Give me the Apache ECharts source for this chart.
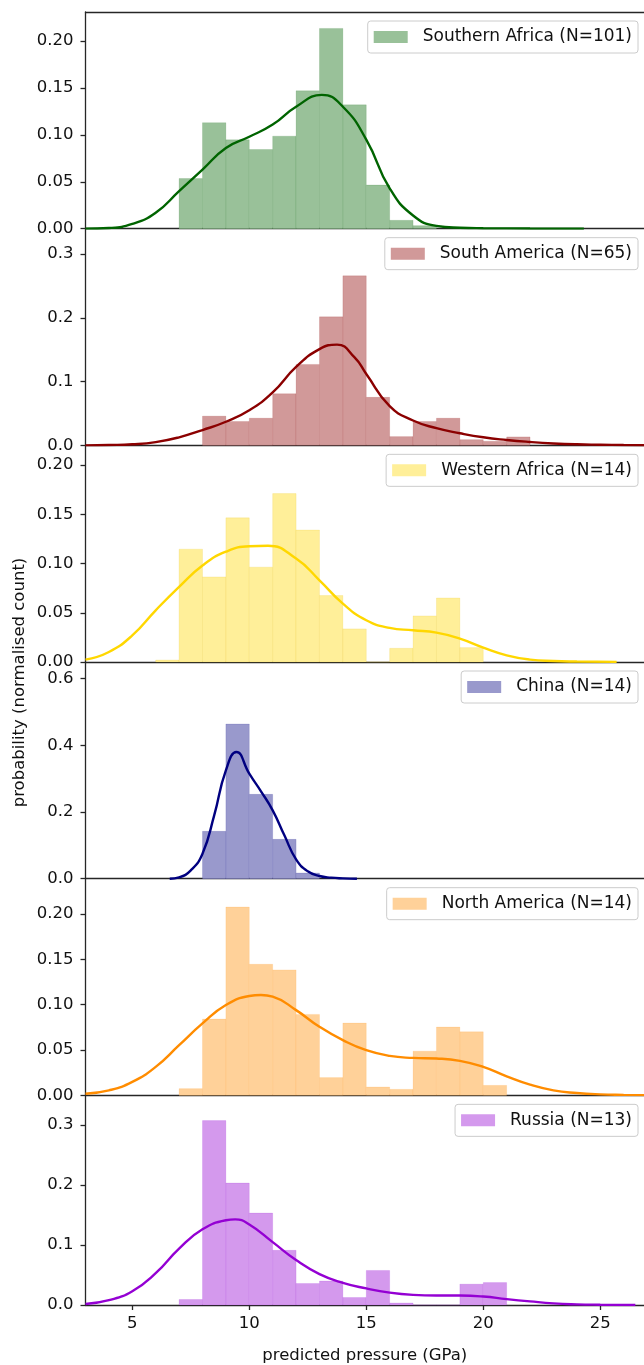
<!DOCTYPE html>
<html><head><meta charset="utf-8">
<script src="https://cdn.jsdelivr.net/npm/echarts@6/dist/echarts.min.js"></script>
<style>html,body{margin:0;padding:0;background:#fff}#c{width:644px;height:1365px}</style>
</head><body><div id="c"></div>
<script>
// ---------- data ----------
const regionLabels = ['Southern Africa (N=101)', 'South America (N=65)', 'Western Africa (N=14)', 'China (N=14)', 'North America (N=14)', 'Russia (N=13)'];
const xTicks = [5, 10, 15, 20, 25];

// histogram: first bin left edge, bin width 1 GPa
const histStart = [7, 8, 6, 8, 7, 7];
const histSA = [0.0535, 0.113, 0.0947, 0.0844, 0.0986, 0.147, 0.2135, 0.132, 0.0465, 0.0089, 0.0032];
const histSAm = [0.0458, 0.0374, 0.0426, 0.081, 0.127, 0.2016, 0.266, 0.0753, 0.0137, 0.0374, 0.0426, 0.0089, 0.0063, 0.0132];
const histWA = [0.002, 0.1146, 0.0864, 0.1464, 0.0963, 0.171, 0.134, 0.0675, 0.0336, 0, 0.0139, 0.0468, 0.065, 0.0146];
const histCN = [0.142, 0.464, 0.253, 0.118, 0.017];
const histNA = [0.0074, 0.0841, 0.2077, 0.1446, 0.1384, 0.0893, 0.0196, 0.0797, 0.0092, 0.0066, 0.0487, 0.0753, 0.0701, 0.011];
const histRU = [0.0092, 0.307, 0.203, 0.153, 0.091, 0.0358, 0.040, 0.0125, 0.0575, 0.0033, 0, 0, 0.0347, 0.0374];

// KDE curves (x in GPa, density)
const kdeXSA = [3, 4, 5, 6, 7, 8, 9, 10, 11, 12, 13.1, 14, 15, 16, 17, 18, 19, 20, 22, 24.3];
const kdeYSA = [0, 0.0007, 0.005, 0.017, 0.040, 0.063, 0.086, 0.098, 0.111, 0.130, 0.1426, 0.130, 0.095, 0.043, 0.014, 0.003, 0.001, 0.0005, 0.0002, 0.0001];
const kdeXSAm = [3, 4, 5, 6, 7, 8, 9, 10, 11, 12, 13, 13.75, 14.5, 15, 16, 17, 18, 19, 20, 21, 22, 23, 24, 25, 26, 26.9];
const kdeYSAm = [0, 0.0005, 0.0016, 0.005, 0.0126, 0.024, 0.037, 0.055, 0.083, 0.123, 0.151, 0.158, 0.138, 0.112, 0.0616, 0.039, 0.027, 0.019, 0.0126, 0.0084, 0.0053, 0.003, 0.0016, 0.001, 0.0005, 0.0002];
const kdeXWA = [3, 4, 5, 6, 7, 8, 9, 10, 10.8, 12, 13, 14, 15, 16, 17, 18, 19, 20, 21, 22, 23, 24, 25.7];
const kdeYWA = [0.0024, 0.0102, 0.027, 0.0525, 0.0763, 0.098, 0.112, 0.1176, 0.118, 0.105, 0.083, 0.0593, 0.0424, 0.0346, 0.0322, 0.0298, 0.0237, 0.0146, 0.0068, 0.0024, 0.001, 0.0005, 0.0001];
const kdeXCN = [6.6, 7, 7.5, 8, 8.5, 9, 9.45, 10, 10.5, 11, 11.5, 12, 12.5, 13, 13.5, 14, 14.6];
const kdeYCN = [0, 0.004, 0.025, 0.075, 0.19, 0.325, 0.38, 0.315, 0.262, 0.205, 0.13, 0.058, 0.022, 0.008, 0.003, 0.001, 0];
const kdeXNA = [3, 4, 5, 6, 7, 8, 9, 10, 10.5, 11, 12, 13, 14, 15, 16, 17, 18, 19, 20, 21, 22, 23, 24, 25, 26, 26.9];
const kdeYNA = [0.0018, 0.0055, 0.0148, 0.0314, 0.0553, 0.0793, 0.0996, 0.1096, 0.1107, 0.1089, 0.094, 0.0756, 0.0609, 0.0498, 0.0435, 0.0413, 0.0406, 0.038, 0.0314, 0.021, 0.0118, 0.0055, 0.0026, 0.0011, 0.0005, 0.0002];
const kdeXRU = [3, 4, 5, 6, 7, 8, 9, 9.4, 10, 11, 12, 13, 14, 15, 16, 17, 18, 19, 20, 21, 22, 23, 24, 25, 26.5];
const kdeYRU = [0.0016, 0.008, 0.023, 0.053, 0.094, 0.126, 0.141, 0.1425, 0.134, 0.1046, 0.0748, 0.0515, 0.0369, 0.0276, 0.0206, 0.0168, 0.0157, 0.0157, 0.0141, 0.0098, 0.006, 0.0027, 0.0011, 0.0005, 0.0001];

// y-axis ranges and ticks
const yMaxes = [0.231, 0.34, 0.22, 0.65, 0.239, 0.349];
const yTicksA = [0, 0.05, 0.10, 0.15, 0.20];
const yTicksB = [0, 0.1, 0.2, 0.3];
const yTicksC = [0, 0.2, 0.4, 0.6];
const yDecimals = [2, 1, 2, 1, 2, 1];

// ---------- styling ----------
const lineColors = ['#006400', '#8b0000', '#ffd700', '#000080', '#ff8c00', '#9400d3'];
const fillColors = ['rgb(153,193,153)', 'rgb(209,153,153)', 'rgb(255,239,153)', 'rgb(153,153,204)', 'rgb(255,209,153)', 'rgb(212,153,237)'];
const edgeColors = ['rgba(0,100,0,0.12)', 'rgba(139,0,0,0.12)', 'rgba(230,190,0,0.15)', 'rgba(0,0,128,0.12)', 'rgba(255,140,0,0.12)', 'rgba(148,0,211,0.12)'];

const hists = [histSA, histSAm, histWA, histCN, histNA, histRU];
const kdeXs = [kdeXSA, kdeXSAm, kdeXWA, kdeXCN, kdeXNA, kdeXRU];
const kdeYs = [kdeYSA, kdeYSAm, kdeYWA, kdeYCN, kdeYNA, kdeYRU];
const yTicks = [yTicksA, yTicksB, yTicksA, yTicksC, yTicksA, yTicksB];

const xMin = 3, xMax = 26.87;
const top0 = 12, panelH = 216.67, leftPx = 85.5;
const axisCol = '#262626';
const fontFam = 'DejaVu Sans';

const grids = [], xAxes = [], yAxes = [], series = [], legends = [];
for (let i = 0; i < 6; i++) {
  const isLast = i === 5;
  grids.push({ left: leftPx, right: 0, top: top0 + i * panelH, height: panelH, containLabel: false });
  xAxes.push({
    type: 'value', gridIndex: i, min: xMin, max: xMax, position: 'bottom',
    axisLine: { show: true, onZero: false, lineStyle: { color: axisCol, width: 1.3 } },
    axisTick: isLast ? { show: true, customValues: xTicks, length: 5, lineStyle: { color: axisCol, width: 1.3 } } : { show: false },
    axisLabel: isLast ? { show: true, customValues: xTicks, color: '#111', fontSize: 16.5, fontFamily: fontFam, margin: 10 } : { show: false },
    splitLine: { show: false },
    name: isLast ? 'predicted pressure (GPa)' : '',
    nameLocation: 'middle', nameGap: 42,
    nameTextStyle: { color: '#111', fontSize: 16.5, fontFamily: fontFam }
  });
  const dec = yDecimals[i];
  yAxes.push({
    type: 'value', gridIndex: i, min: 0, max: yMaxes[i],
    axisLine: { show: true, lineStyle: { color: axisCol, width: 1.3 } },
    axisTick: { show: true, customValues: yTicks[i], length: 5, lineStyle: { color: axisCol, width: 1.3 } },
    axisLabel: { show: true, customValues: yTicks[i], color: '#111', fontSize: 16.5, fontFamily: fontFam, margin: 12,
      formatter: v => v.toFixed(dec) },
    splitLine: { show: false }
  });
  const start = histStart[i];
  const binData = hists[i].map((h, k) => [start + k, start + k + 1, h]);
  const fill = fillColors[i], edge = edgeColors[i];
  series.push({
    type: 'custom', name: regionLabels[i], xAxisIndex: i, yAxisIndex: i,
    data: binData, encode: { x: [0, 1], y: 2 },
    itemStyle: { color: fill },
    renderItem: (params, api) => {
      const a = api.coord([api.value(0), api.value(2)]);
      const b = api.coord([api.value(1), 0]);
      return { type: 'rect', shape: { x: a[0], y: a[1], width: b[0] - a[0], height: b[1] - a[1] },
        style: { fill: fill, stroke: edge, lineWidth: 1 } };
    },
    z: 1
  });
  series.push({
    type: 'line', name: 'kde' + i, xAxisIndex: i, yAxisIndex: i,
    data: kdeXs[i].map((x, k) => [x, kdeYs[i][k]]),
    smooth: 0.5, showSymbol: false, clip: true,
    lineStyle: { color: lineColors[i], width: 2.4 },
    z: 3, silent: true
  });
  legends.push({
    data: [regionLabels[i]], right: 6, top: top0 + i * panelH + 9,
    orient: 'horizontal', icon: 'rect', itemWidth: 34, itemHeight: 12,
    backgroundColor: 'rgba(255,255,255,0.8)', borderColor: '#cccccc', borderWidth: 1, borderRadius: 3,
    padding: [7, 6, 7, 6],
    textStyle: { color: '#111', fontSize: 17, fontFamily: fontFam, padding: [0, 0, 0, 10], lineHeight: 18 },
    selectedMode: false
  });
}
// top spine of first panel
xAxes.push({
  type: 'value', gridIndex: 0, min: xMin, max: xMax, position: 'top',
  axisLine: { show: true, onZero: false, lineStyle: { color: axisCol, width: 1.3 } },
  axisTick: { show: false }, axisLabel: { show: false }, splitLine: { show: false }
});

const chart = echarts.init(document.getElementById('c'), null, { renderer: 'canvas' });
chart.setOption({
  animation: false,
  backgroundColor: '#ffffff',
  grid: grids, xAxis: xAxes, yAxis: yAxes, series: series, legend: legends,
  graphic: [{
    type: 'text', left: 11, top: 'middle', rotation: Math.PI / 2,
    style: { text: 'probability (normalised count)', fill: '#111', fontSize: 16.5, fontFamily: fontFam }
  }]
});
</script></body></html>
